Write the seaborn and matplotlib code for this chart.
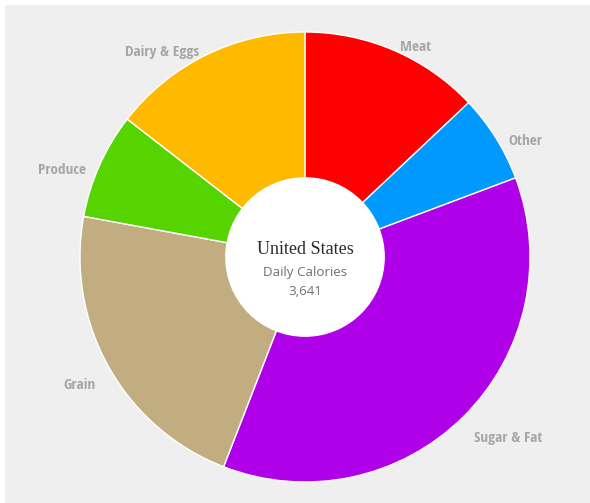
import matplotlib
matplotlib.use("Agg")
import matplotlib.pyplot as plt
from matplotlib.patches import Rectangle, Circle
import numpy as np
import seaborn as sns

categories = ["Meat", "Other", "Sugar & Fat", "Grain", "Produce", "Dairy & Eggs"]
calories = [472, 230, 1333, 801, 277, 528]
colors = ["#FF0000", "#0099FF", "#B000EA", "#C1AD80", "#55D400", "#FFBA00"]
country = "United States"
subtitle = "Daily Calories"
total = sum(calories)

sns.set_theme(style="white")
plt.rcParams["font.family"] = ["Open Sans", "DejaVu Sans"]

W, H = 590, 503
fig = plt.figure(figsize=(W / 100, H / 100), dpi=100, facecolor="white")
fig.patches.append(Rectangle((5 / W, 0), 1, 1 - 5 / H, transform=fig.transFigure,
                             facecolor="#EFEFEF", edgecolor="none", zorder=-10))

# square axes so that the pie centre sits at (305, 257) px with a 225 px radius
L = 1.3
S = 225 * 2 * L
cx, cy = 305, H - 257
ax = fig.add_axes([(cx - S / 2) / W, (cy - S / 2) / H, S / W, S / H])
ax.set_zorder(5)

wedges, _ = ax.pie(calories, colors=colors, startangle=90, counterclock=False,
                   radius=1.0, wedgeprops=dict(edgecolor="white", linewidth=1.0))
ax.set_xlim(-L, L)
ax.set_ylim(-L, L)
ax.set_aspect("equal")
ax.axis("off")
for w in wedges:
    w.set_clip_on(False)

# white hole in the middle of the donut
ax.add_patch(Circle((0, 0), 0.355, facecolor="white", edgecolor="none", zorder=5))

# category labels just outside the ring, aligned away from the pie
label_r = 1.067
for w, name in zip(wedges, categories):
    mid = np.deg2rad((w.theta1 + w.theta2) / 2)
    x, y = label_r * np.cos(mid), label_r * np.sin(mid) - 0.048
    ax.text(x, y, name, ha="left" if x >= 0 else "right", va="center",
            fontsize=11, fontweight="bold", color="#A6A6A6",
            family=["Open Sans Condensed", "Open Sans", "DejaVu Sans"], clip_on=False)

ax.text(0, 0.035, country, ha="center", va="center", fontsize=13,
        family=["Liberation Serif", "DejaVu Serif"], color="#2B2B2B", zorder=6)
ax.text(0, -0.07, subtitle, ha="center", va="center", fontsize=9.6,
        color="#707070", zorder=6)
ax.text(0, -0.152, f"{total:,}", ha="center", va="center", fontsize=9.6,
        color="#707070", zorder=6)

fig.savefig("out.png", dpi=100, facecolor="white")
